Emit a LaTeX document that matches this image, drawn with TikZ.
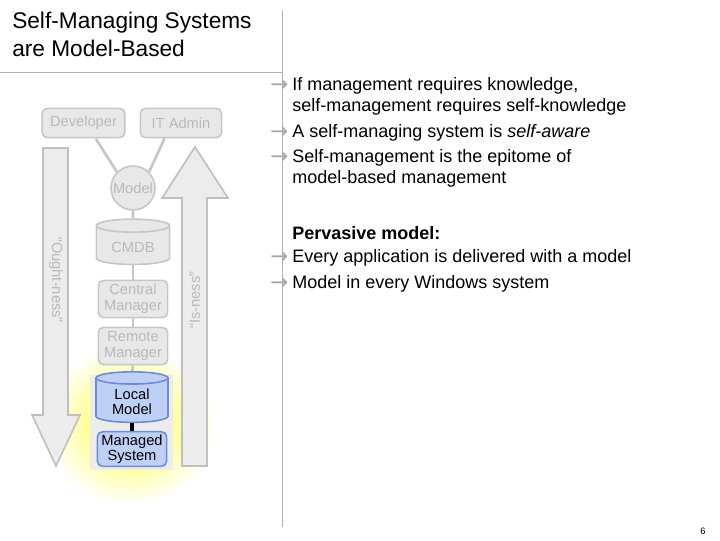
\documentclass[tikz,border=0pt]{standalone}
\usepackage{fontspec}
\setmainfont{Liberation Sans}
\newfontfamily\djv{DejaVu Sans}
\usetikzlibrary{shapes.geometric,shapes.arrows}
\definecolor{lblue}{RGB}{190,208,245}
\definecolor{dblue}{RGB}{110,140,210}
\begin{document}
\begin{tikzpicture}[x=0.75pt,y=-0.75pt,
  gbox/.style={draw=gray!45,line width=1.2pt,fill=gray!18,rounded corners=4pt,text=gray!55,align=center,font=\fontsize{11}{12}\selectfont,inner sep=1pt},
  gcyl/.style={cylinder,shape border rotate=90,aspect=0.25,draw=gray!45,line width=1.2pt,fill=gray!18,text=gray!55,font=\fontsize{11}{12}\selectfont,align=center},
  bbox/.style={draw=dblue,line width=1.2pt,fill=lblue,rounded corners=4pt,text=black,align=center,font=\fontsize{11}{11}\selectfont,inner sep=1pt},
  bcyl/.style={cylinder,shape border rotate=90,aspect=0.25,draw=dblue,line width=1.2pt,fill=lblue,text=black,font=\fontsize{11}{11}\selectfont,align=center},
  gline/.style={draw=gray!45,line width=2pt},
  bigarrow/.style={draw=gray!50,line width=1.2pt,fill=gray!15},
  bul/.style={anchor=west,font=\fontsize{13.5}{16}\selectfont,align=left,inner sep=0pt},
  arr/.style={anchor=west,font=\djv\fontsize{16}{16}\selectfont,text=gray!70,inner sep=0pt}]
\useasboundingbox (0,0) rectangle (720,540);
% title and rules
\node[anchor=north west,font=\fontsize{17}{21}\selectfont,align=left,inner sep=0pt] (title) at (12,12) {Self-Managing Systems\\are Model-Based};
\draw[gray!60,line width=0.6pt] (0,72) -- (282,72);
\draw[gray!60,line width=0.6pt] (282,10) -- (282,527);
% glow
\shade[inner color=yellow!80,outer color=white] (130,425) ellipse (85 and 80);
% big arrows
\draw[bigarrow] (43,148) -- (68,148) -- (68,415) -- (80,415) -- (56,466) -- (32,415) -- (43,415) -- cycle;
\draw[bigarrow] (182,466) -- (207,466) -- (207,198) -- (228,198) -- (195,147) -- (162,198) -- (182,198) -- cycle;
\node[rotate=-90,text=gray!55,font=\fontsize{11}{12}\selectfont] (ought) at (56,280) {``Ought-ness''};
\node[rotate=90,text=gray!55,font=\fontsize{11}{12}\selectfont] (isness) at (195,300) {``Is-ness''};
% gray backdrop
\fill[gray!15] (90,375) rectangle (173,470);
% nodes
\node[gbox,minimum width=62pt,minimum height=22pt] (dev) at (83.5,123) {Developer};
\node[gbox,minimum width=61pt,minimum height=22pt] (ita) at (181,123) {IT Admin};
\node[circle,draw=gray!45,line width=1.2pt,fill=gray!18,text=gray!55,font=\fontsize{11}{12}\selectfont,minimum size=33pt,inner sep=0pt] (model) at (133,188) {Model};
\node[gcyl,minimum width=55pt,minimum height=34pt] (cmdb) at (133,247) {CMDB};
\node[gbox,minimum width=52pt,minimum height=28pt] (cm) at (133,299) {Central\\Manager};
\node[gbox,minimum width=52pt,minimum height=28pt] (rm) at (133,346) {Remote\\Manager};
\node[bcyl,minimum width=54pt,minimum height=34pt] (lm) at (132,402) {Local\\Model};
\node[bbox,minimum width=52pt,minimum height=26pt] (ms) at (132,449) {Managed\\System};
% connectors
\draw[gline] (dev.south east) ++(-30,0) -- (model.north west);
\draw[gline] (ita.south west) ++(25,0) -- (model.north east);
\draw[gline] (model) -- (cmdb);
\draw[gline] (cmdb) -- (cm);
\draw[gline] (cm) -- (rm);
\draw[gline] (rm) -- (lm);
\draw[black,line width=2.5pt] (lm) -- (ms);
% right text
\node[arr] (a1) at (270,86) {→};
\node[bul,anchor=north west] (t1) at (292,77) {If management requires knowledge,\\self-management requires self-knowledge};
\node[arr] (a2) at (270,133) {→};
\node[bul] (t2) at (292,133) {A self-managing system is \textit{self-aware}};
\node[arr] (a3) at (270,158) {→};
\node[bul,anchor=north west] (t3) at (292,149) {Self-management is the epitome of\\model-based management};
\node[bul] (t4) at (292,233) {\textbf{Pervasive model:}};
\node[arr] (a4) at (270,258) {→};
\node[bul] (t5) at (292,258) {Every application is delivered with a model};
\node[arr] (a5) at (270,284) {→};
\node[bul] (t6) at (292,284) {Model in every Windows system};
\node[font=\fontsize{7}{8}\selectfont] (pg) at (703,531) {6};
\end{tikzpicture}
\end{document}
